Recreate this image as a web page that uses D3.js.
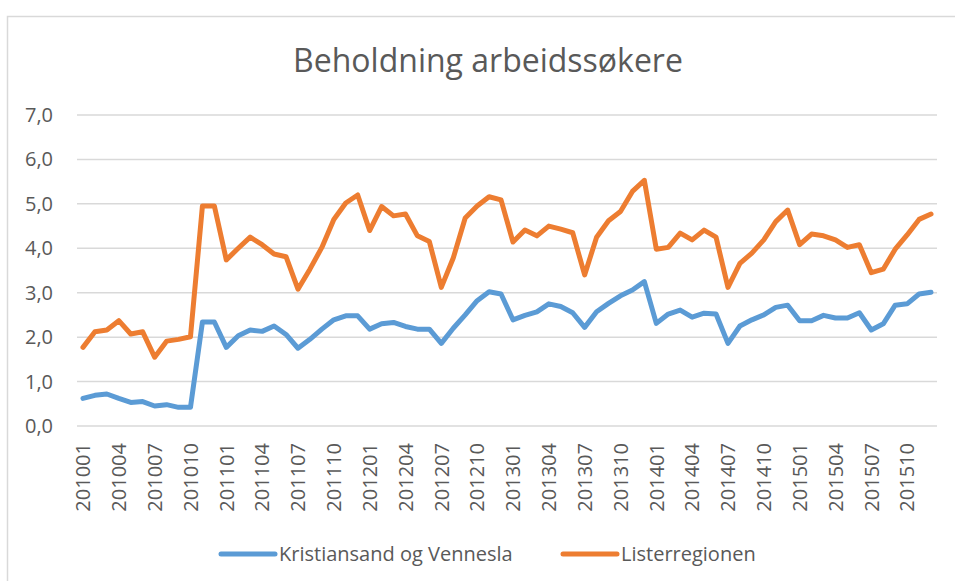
<!DOCTYPE html>
<html>
<head>
<meta charset="utf-8">
<script src="https://cdn.jsdelivr.net/npm/d3@7"></script>
<style>
  html, body { margin: 0; padding: 0; background: #fff; }
  svg { display: block; font-family: 'Open Sans', 'Noto Sans', sans-serif; }
</style>
</head>
<body>
<div id="chart"></div>
<script>
const years = ['2010', '2011', '2012', '2013', '2014', '2015'];
const months = ['01', '02', '03', '04', '05', '06', '07', '08', '09', '10', '11', '12'];
const periods = years.flatMap((y) => months.map((m) => y + m));

const seriesNames = ['Kristiansand og Vennesla', 'Listerregionen'];

const kristiansand = [
  0.62, 0.69, 0.72, 0.62, 0.53, 0.55, 0.45, 0.48, 0.42, 0.42, 2.34, 2.34,
  1.77, 2.03, 2.16, 2.13, 2.25, 2.06, 1.75, 1.95, 2.18, 2.39, 2.48, 2.48,
  2.18, 2.30, 2.33, 2.24, 2.18, 2.18, 1.86, 2.20, 2.50, 2.82, 3.02, 2.97,
  2.39, 2.49, 2.57, 2.75, 2.69, 2.55, 2.22, 2.57, 2.76, 2.93, 3.06, 3.25,
  2.31, 2.52, 2.61, 2.45, 2.54, 2.52, 1.86, 2.25, 2.39, 2.50, 2.67, 2.72,
  2.37, 2.37, 2.49, 2.43, 2.43, 2.55, 2.16, 2.30, 2.72, 2.75, 2.97, 3.01
];

const lister = [
  1.77, 2.12, 2.16, 2.37, 2.07, 2.12, 1.55, 1.91, 1.95, 2.01, 4.95, 4.95,
  3.74, 4.00, 4.25, 4.08, 3.87, 3.81, 3.08, 3.53, 4.02, 4.65, 5.02, 5.20,
  4.40, 4.94, 4.73, 4.77, 4.28, 4.15, 3.12, 3.78, 4.68, 4.95, 5.16, 5.09,
  4.14, 4.41, 4.28, 4.50, 4.43, 4.35, 3.40, 4.25, 4.62, 4.83, 5.28, 5.53,
  3.98, 4.02, 4.34, 4.19, 4.41, 4.25, 3.12, 3.66, 3.89, 4.19, 4.60, 4.86,
  4.08, 4.32, 4.28, 4.19, 4.02, 4.08, 3.45, 3.53, 3.98, 4.30, 4.65, 4.77
];

const yTicks = [0, 1, 2, 3, 4, 5, 6, 7];
const tickLabels = periods.filter((_, i) => i % 3 === 0);

const width = 955;
const height = 581;
const colors = ['#5b9bd5', '#ed7d31'];
const textColor = '#595959';
const gridColor = '#d9d9d9';

const svg = d3.select('#chart').append('svg').attr('width', width).attr('height', height);

// chart frame (runs past the right/bottom edge like the screenshot)
svg.append('rect')
  .attr('x', 7.5).attr('y', 16.5)
  .attr('width', 1000).attr('height', 1000)
  .attr('fill', 'none')
  .attr('stroke', gridColor)
  .attr('stroke-width', 1.5);

svg.append('text')
  .attr('x', 488).attr('y', 72)
  .attr('text-anchor', 'middle')
  .attr('font-size', 32)
  .attr('fill', textColor)
  .text('Beholdning arbeidssøkere');

const x = d3.scaleBand().domain(periods).range([77, 937]);
const y = d3.scaleLinear().domain([0, 7]).range([426, 115]);
const cx = (p) => x(p) + x.bandwidth() / 2;

const fmt = (v) => d3.format('.1f')(v).replace('.', ',');

svg.append('g')
  .selectAll('line')
  .data(yTicks)
  .enter()
  .append('line')
  .attr('x1', 77).attr('x2', 937)
  .attr('y1', (d) => y(d)).attr('y2', (d) => y(d))
  .attr('stroke', gridColor)
  .attr('stroke-width', 1.5);

svg.append('g')
  .selectAll('text')
  .data(yTicks)
  .enter()
  .append('text')
  .attr('x', 53)
  .attr('y', (d) => y(d))
  .attr('dy', '0.35em')
  .attr('text-anchor', 'end')
  .attr('font-size', 20)
  .attr('fill', textColor)
  .text(fmt);

svg.append('g')
  .selectAll('text')
  .data(tickLabels)
  .enter()
  .append('text')
  .attr('transform', (d) => `translate(${cx(d)},443) rotate(-90)`)
  .attr('dy', '0.36em')
  .attr('text-anchor', 'end')
  .attr('font-size', 20)
  .attr('fill', textColor)
  .text((d) => d);

const line = d3.line()
  .x((d, i) => cx(periods[i]))
  .y((d) => y(d));

[kristiansand, lister].forEach((values, k) => {
  svg.append('path')
    .datum(values)
    .attr('d', line)
    .attr('fill', 'none')
    .attr('stroke', colors[k])
    .attr('stroke-width', 5)
    .attr('stroke-linejoin', 'round')
    .attr('stroke-linecap', 'round');
});

const legendX = [220, 562];
const legend = svg.append('g')
  .selectAll('g')
  .data(seriesNames)
  .enter()
  .append('g')
  .attr('transform', (d, i) => `translate(${legendX[i]},554)`);

legend.append('line')
  .attr('x1', 1).attr('x2', 55)
  .attr('stroke', (d, i) => colors[i])
  .attr('stroke-width', 5)
  .attr('stroke-linecap', 'round');

legend.append('text')
  .attr('x', 59)
  .attr('dy', '0.35em')
  .attr('font-size', 20)
  .attr('fill', textColor)
  .text((d) => d);
</script>
</body>
</html>
